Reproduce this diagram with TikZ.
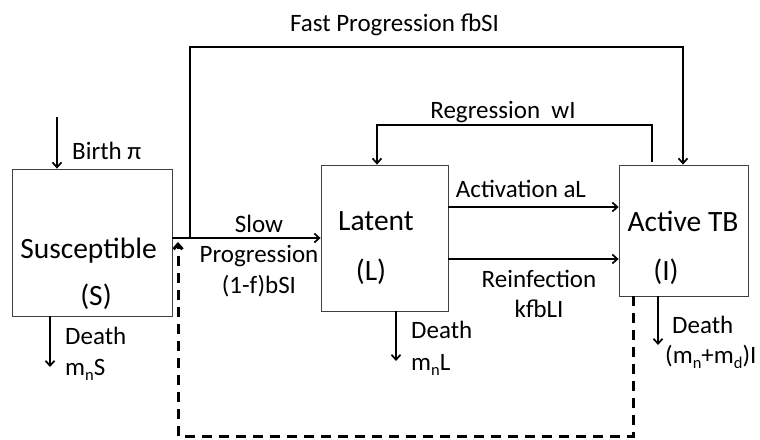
\documentclass[tikz,border=0pt]{standalone}
\usepackage{fontspec}
\setmainfont{Carlito}
\usetikzlibrary{arrows.meta}

\newcommand\subs[1]{\raisebox{-5pt}{\fontsize{16.5}{16.5}\selectfont #1}}

\tikzset{
  comp/.style={draw=black!75, line width=0.8pt, inner sep=0pt},
  boxtxt/.style={inner sep=0pt, anchor=base, font=\fontsize{29.5}{34}\selectfont},
  lbl/.style={inner sep=0pt, anchor=base, font=\fontsize{25}{31}\selectfont},
  lblw/.style={lbl, anchor=base west, align=left},
  flow/.style={line width=1.7pt, -{Straight Barb[length=5pt,width=9pt]}},
  back/.style={flow, line width=3pt, dash pattern=on 10pt off 7pt}
}

\begin{document}
\begin{tikzpicture}[x=1pt, y=-1pt]
  \useasboundingbox (0,0) rectangle (760,439);

  % compartments
  \node[comp, minimum width=160pt, minimum height=147pt] (S) at (92,242.5) {};
  \node[comp, minimum width=127pt, minimum height=146pt] (L) at (384.5,238) {};
  \node[comp, minimum width=129pt, minimum height=131pt] (I) at (683.5,230.5) {};

  \node[boxtxt] (Sname) at (88.5,258) {Susceptible};
  \node[boxtxt] (Ssym) at (96,305) {(S)};
  \node[boxtxt] (Lname) at (376,230) {Latent};
  \node[boxtxt] (Lsym) at (371,280) {(L)};
  \node[boxtxt] (Iname) at (683,231) {Active TB};
  \node[boxtxt] (Isym) at (666,280) {(I)};

  % helper points
  \coordinate (birth) at (57,117);
  \coordinate (fork) at (190,238);
  \coordinate (fast) at (683,47);
  \coordinate (regR) at (652,125);
  \coordinate (regL) at (377,125);
  \coordinate (act) at (0,207);
  \coordinate (reinf) at (0,259);
  \coordinate (dR) at (633,436);
  \coordinate (dL) at (178,436);
  \coordinate (dT) at (178,242);

  % flows
  \draw[flow] (birth) -- (birth |- S.north);
  \draw[flow] (S.east |- fork) -- (L.west |- fork);
  \draw[flow] (fork) |- (fast) -- (fast |- I.north);
  \draw[flow] ([yshift=3pt]I.north -| regR) -- (regR) -- (regL) -- (regL |- L.north);
  \draw[flow] (L.east |- act) -- (I.west |- act);
  \draw[flow] (L.east |- reinf) -- (I.west |- reinf);
  \draw[back] (I.south -| dR) -- (dR) -- (dL) -- (dT);

  % deaths
  \draw[flow] (S.south -| 50,0) -- (50,367);
  \draw[flow] (L.south -| 396,0) -- (396,361);
  \draw[flow] (I.south -| 658,0) -- (658,345);

  % labels
  \node[lblw] (birthlbl) at (72,159) {Birth π};
  \node[lbl] (fastlbl) at (394.5,31) {Fast Progression fbSI};
  \node[lbl] (reglbl) at (503,118) {Regression\ \ wI};
  \node[lbl] (actlbl) at (521,197) {Activation aL};
  \node[lbl, align=center, font=\fontsize{25}{30}\selectfont] (reinflbl) at (539,317) {Reinfection\\kfbLI};
  \node[lbl, align=center, font=\fontsize{25}{30.5}\selectfont] (slowlbl) at (259,293) {Slow\\Progression\\(1-f)bSI};
  \node[lblw] (Sdeath) at (65,375) {Death\\m\subs{n}S};
  \node[lblw, font=\fontsize{25}{32}\selectfont] (Ldeath) at (411,370) {Death\\m\subs{n}L};
  \node[lblw, font=\fontsize{25}{30}\selectfont] (Ideath) at (665,363) {\hspace*{7pt}Death\\(m\subs{n}+m\subs{d})I};
\end{tikzpicture}
\end{document}
